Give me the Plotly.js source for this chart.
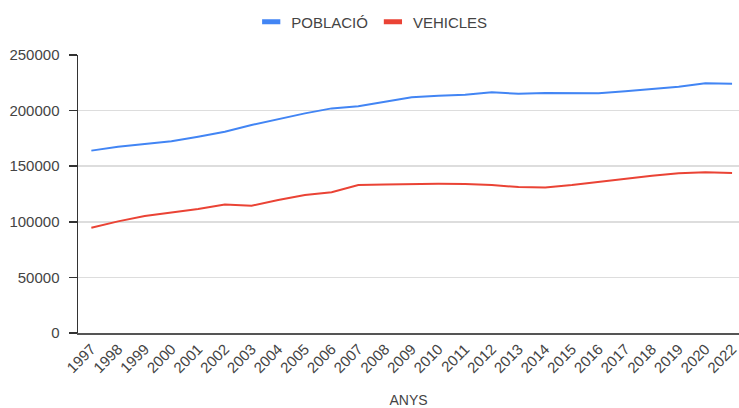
<!DOCTYPE html>
<html>
<head>
<meta charset="utf-8">
<script src="https://cdn.plot.ly/plotly-3.0.1.min.js"></script>
<style>html,body{margin:0;padding:0;background:#fff;}#chart{width:739px;height:408px;}</style>
</head>
<body>
<div id="chart"></div>
<script>
const years = ["1997","1998","1999","2000","2001","2002","2003","2004","2005","2006","2007","2008","2009","2010","2011","2012","2013","2014","2015","2016","2017","2018","2019","2020","2022"];
const poblacio = [164000,167500,170000,172400,176500,181000,187000,192400,197500,202000,204000,208000,212000,213400,214300,216400,215200,215800,215500,215500,217300,219400,221500,224500,224200];
const vehicles = [94700,100400,105200,108200,111500,115500,114500,119600,124100,126500,133100,133600,134000,134200,134000,133200,131200,130900,133100,136100,139100,141500,143600,144500,143900];
const yTicks = [0,50000,100000,150000,200000,250000];
const names = ["POBLACIÓ","VEHICLES"];
const colors = ["#4285F4","#EA4335"];
const font = "Liberation Sans, Arial, sans-serif";

const traces = [
  {type:"scatter", mode:"lines", x:years, y:poblacio, name:names[0], showlegend:false, line:{color:colors[0], width:2}},
  {type:"scatter", mode:"lines", x:years, y:vehicles, name:names[1], showlegend:false, line:{color:colors[1], width:2}},
  {type:"scatter", mode:"markers", x:[null], y:[null], name:names[0], marker:{symbol:"line-ew", size:13, line:{width:5, color:colors[0]}}},
  {type:"scatter", mode:"markers", x:[null], y:[null], name:names[1], marker:{symbol:"line-ew", size:13, line:{width:5, color:colors[1]}}}
];

const layout = {
  width:739, height:408,
  margin:{l:78, r:0, t:55, b:75, autoexpand:false},
  paper_bgcolor:"#fff", plot_bgcolor:"#fff",
  font:{family:font, color:"#444", size:15},
  showlegend:true,
  legend:{orientation:"h", xref:"container", yref:"container", x:0.503, xanchor:"center", y:0.946, yanchor:"middle", font:{size:15, color:"#444"}, itemwidth:30, tracegroupgap:0},
  xaxis:{type:"category", categoryarray:years, range:[-0.5,24.26], showgrid:false, showline:true, linecolor:"#555", linewidth:1.5, ticks:"", tickangle:-45, tickfont:{size:15, color:"#444"}, title:{text:"ANYS", font:{size:14, color:"#444"}, standoff:24}, automargin:false, fixedrange:true},
  yaxis:{range:[0,250000], tickvals:yTicks, ticktext:yTicks.map(String), showgrid:true, gridcolor:"#ddd", gridwidth:1.5, showline:true, linecolor:"#333", linewidth:1.5, ticks:"outside", ticklen:8, tickcolor:"#333", tickwidth:1.5, ticklabelstandoff:6, tickfont:{size:15, color:"#444"}, zeroline:false, automargin:false, fixedrange:true}
};

Plotly.newPlot("chart", traces, layout, {displayModeBar:false, staticPlot:true});
</script>
</body>
</html>
